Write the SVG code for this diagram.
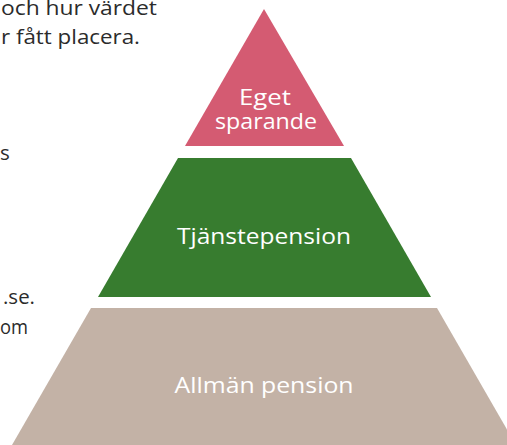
<svg xmlns="http://www.w3.org/2000/svg" width="507" height="445" viewBox="0 0 507 445">
<style>
.side{font-family:"Open Sans","Lato",sans-serif;font-size:20.5px;fill:#2b2b2b}
.lbl{font-family:"Open Sans","Lato",sans-serif;font-size:22px;fill:#ffffff;text-anchor:middle}
</style>
<rect width="507" height="445" fill="#ffffff"/>
<g id="side-text">
<text class="side" x="1" y="15" textLength="156" lengthAdjust="spacingAndGlyphs">och hur värdet</text>
<text class="side" x="1" y="44" textLength="139" lengthAdjust="spacingAndGlyphs">r fått placera.</text>
<text class="side" x="0" y="160">s</text>
<text class="side" x="3" y="304" textLength="32" lengthAdjust="spacingAndGlyphs">.se.</text>
<text class="side" x="0" y="334" textLength="28" lengthAdjust="spacingAndGlyphs">om</text>
</g>
<g id="eget-sparande">
<polygon points="264,9 344,146 185,146" fill="#d45b72"/>
<text class="lbl" x="265" y="105" textLength="52" lengthAdjust="spacingAndGlyphs">Eget</text>
<text class="lbl" x="266" y="129" textLength="102" lengthAdjust="spacingAndGlyphs">sparande</text>
</g>
<g id="tjanstepension">
<polygon points="178,158 351,158 431,297 98,297" fill="#377c2f"/>
<text class="lbl" x="264" y="244" textLength="174" lengthAdjust="spacingAndGlyphs">Tjänstepension</text>
</g>
<g id="allman-pension">
<polygon points="91,308 437,308 516,445 12,445" fill="#c3b2a6"/>
<text class="lbl" x="264" y="393" textLength="179" lengthAdjust="spacingAndGlyphs">Allmän pension</text>
</g>
<g id="connectors"/>
</svg>
